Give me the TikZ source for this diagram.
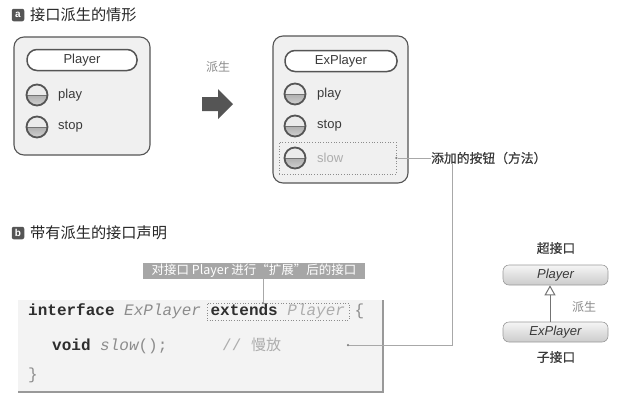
\documentclass[tikz,border=0pt]{standalone}
\usepackage{fontspec}
\setmainfont{Liberation Sans}
\setmonofont{Liberation Mono}
\newfontfamily\cjk{Noto Sans CJK SC}
\newfontfamily\cjkm[FakeBold=0.6]{Noto Sans CJK SC}
\usetikzlibrary{arrows.meta,calc}
\definecolor{frame}{HTML}{555555}
\definecolor{panel}{HTML}{F0F0F0}
\definecolor{txt}{HTML}{3A3A3A}
\definecolor{lightt}{HTML}{8A8A8A}
\definecolor{connc}{HTML}{A8A8A8}
\definecolor{kw}{HTML}{2E2E2E}
\definecolor{idc}{HTML}{8C8C8C}
\definecolor{idl}{HTML}{ADADAD}
\definecolor{codebg}{HTML}{F3F3F3}
\tikzset{
  panelbox/.style={draw=frame, line width=1.1pt, fill=panel, rounded corners=10pt},
  pill/.style={draw=frame, line width=1.5pt, fill=white, rounded corners=10pt, minimum height=21pt, font=\fontsize{13}{15}\selectfont, text=txt},
  btn/.style={circle, minimum size=21pt, inner sep=0pt, draw=frame, line width=1.8pt, fill=white!92!black,
    path picture={\shade[top color=black!45, bottom color=black!18] (path picture bounding box.west) rectangle (path picture bounding box.south east);
      \draw[black!55, line width=0.5pt] (path picture bounding box.west) -- (path picture bounding box.east);}},
  btnlabel/.style={anchor=west, inner sep=0pt, font=\fontsize{13}{15}\selectfont, text=txt},
  heading/.style={anchor=west, inner sep=0pt, font=\cjk\fontsize{15.2}{17}\selectfont, text=black!85},
  icon/.style={fill=frame, rounded corners=2pt, minimum size=12.5pt, inner sep=0pt, text=white, font=\fontsize{10}{10}\selectfont\bfseries},
  note/.style={inner sep=0pt, font=\cjk\fontsize{12}{14}\selectfont},
  semib/.style={font=\cjkm\fontsize{12.8}{14}\selectfont, text=txt},
  conn/.style={draw=connc, line width=0.6pt},
  dotbox/.style={draw=black!45, dotted, line width=0.7pt, inner sep=0pt},
  dotmark/.style={circle, fill=black!50, inner sep=0pt, minimum size=2.5pt},
  code/.style={anchor=base west, inner sep=0pt, font=\ttfamily\fontsize{16}{18}\selectfont},
  ifbox/.style={draw=black!40, line width=0.6pt, rounded corners=6pt, top color=black!4, bottom color=black!20,
    minimum width=105pt, minimum height=20pt, font=\fontsize{13}{15}\selectfont\itshape, text=txt},
}
\begin{document}
\begin{tikzpicture}[x=1pt, y=-1pt]
\useasboundingbox (0,0) rectangle (623,408);

% ---------- section a ----------
\node[icon] (ia) at (18,15) {a};
\node[heading] (ha) at (30,15) {接口派生的情形};

% Player panel
\node[panelbox, minimum width=136pt, minimum height=118pt] (pp) at (82,96) {};
\node[pill, minimum width=110pt] (ppt) at (82,60) {Player};
\node[btn] (pb1) at (37,95) {};
\node[btnlabel] (pl1) at (58,95) {play};
\node[btn] (pb2) at (37,127) {};
\node[btnlabel] (pl2) at (58,127) {stop};

% big arrow
\node[note, text=lightt] (dv) at (218,67) {派生};
\fill[frame] (202,97) -- (218,97) -- (218,89) -- (233,104) -- (218,119) -- (218,111) -- (202,111) -- cycle;

% ExPlayer panel
\node[panelbox, minimum width=135pt, minimum height=147pt] (ep) at (340.5,109.5) {};
\node[pill, minimum width=112pt] (ept) at (341,61) {ExPlayer};
\node[btn] (eb1) at (295,94) {};
\node[btnlabel] (el1) at (317,94) {play};
\node[btn] (eb2) at (295,126) {};
\node[btnlabel] (el2) at (317,126) {stop};
\node[dotbox, minimum width=117pt, minimum height=32pt] (slowbox) at (337.5,158) {};
\node[btn] (eb3) at (295,158) {};
\node[btnlabel, text=idl] (el3) at (317,158) {slow};
\node[dotmark] (sd) at (slowbox.east) {};

\node[note, anchor=west, semib] (add) at (431,158) {添加的按钮（方法）};
\draw[conn] (sd) -- (add.west);

% ---------- section b ----------
\node[icon] (ib) at (18,233) {b};
\node[heading] (hb) at (30,233) {带有派生的接口声明};

% code box
\fill[codebg] (18,300) rectangle (383,392);
\draw[black!40, line width=1.2pt] (383,300) -- (383,392) -- (18,392);

\node[code] (c1) at (28,315) {\textbf{\color{kw}interface} \textit{\color{idc}ExPlayer} \textbf{\color{kw}extends} \textit{\color{idl}Player} \color{idc}\{};
\node[code] (c2) at (52,350) {\textbf{\color{kw}void} \textit{\color{idc}slow}\color{idc}();};
\node[code, text=idl] (c2c) at (222,350) {// {\cjk\fontsize{15}{17}\selectfont 慢放}};
\node[code, text=idc] (c3) at (28,379) {\}};

\node[dotbox, minimum width=142pt, minimum height=17pt] (extbox) at (278,311.5) {};
\coordinate (et) at (263,303);
\node[dotmark] (etd) at (et) {};

\node[note, fill=black!35, text=white, font=\cjk\fontsize{12.5}{15}\selectfont, minimum width=222pt, minimum height=16pt] (lbl) at (254,270.5) {对接口 Player 进行“扩展”后的接口};
\draw[conn] (lbl.south -| et) -- (etd);

\node[dotmark] (cd) at (348,345) {};
\coordinate (turn) at (452,345);
\draw[conn] (cd) -- (turn) -- (turn |- add.south);

% ---------- right diagram ----------
\node[note, semib] (sup) at (556,248) {超接口};
\node[ifbox] (ip) at (555.5,275) {Player};
\node[ifbox] (iep) at (555.5,332) {ExPlayer};
\node[note, semib] (sub) at (556,357) {子接口};
\draw[black!55, line width=1pt, -{Triangle[open, width=11pt, length=10pt]}] (iep.north -| 550,0) -- (ip.south -| 550,0);
\node[note, text=lightt] (dv2) at (584,307) {派生};
\end{tikzpicture}
\end{document}
